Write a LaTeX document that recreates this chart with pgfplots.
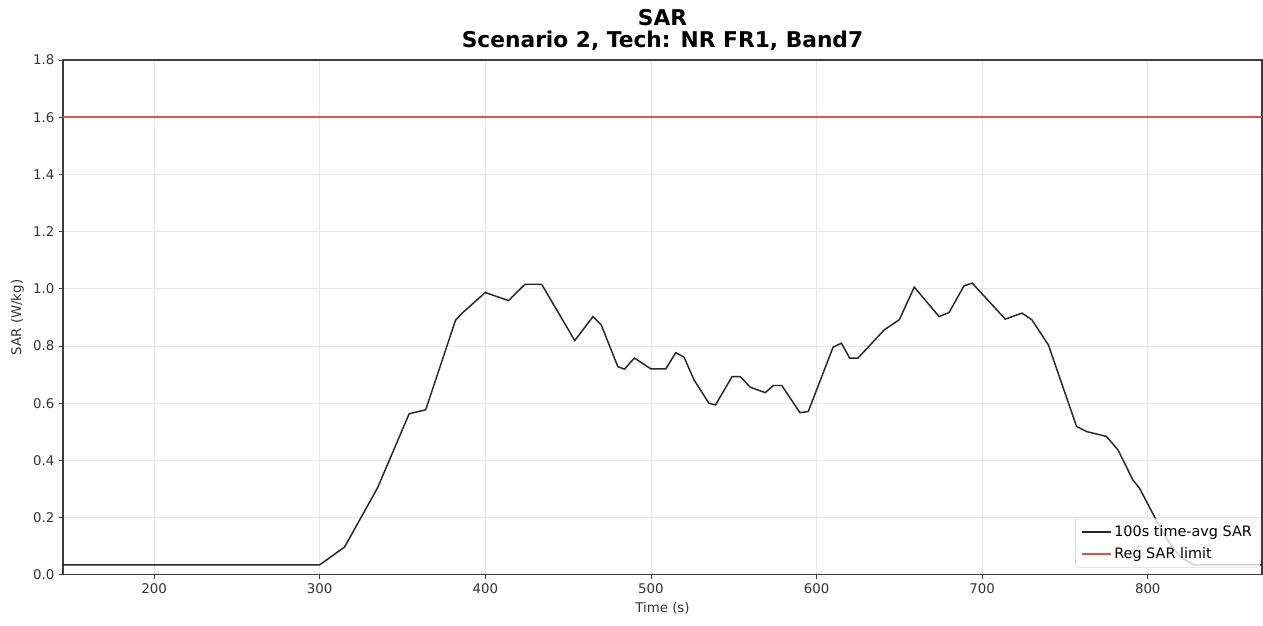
\documentclass[border=0pt]{standalone}
\usepackage{pgfplots}
\pgfplotsset{compat=1.18}
\usepackage{fontspec}
\setmainfont{DejaVu Sans}
\definecolor{sarred}{RGB}{228,80,80}
\definecolor{spine}{RGB}{60,60,60}
\definecolor{gridc}{RGB}{232,232,232}
\begin{document}
\begin{tikzpicture}
\begin{axis}[
  scale only axis,
  width=899pt, height=386pt,
  xmin=145, xmax=869, ymin=0, ymax=1.8,
  xtick={200,300,400,500,600,700,800},
  ytick={0,0.2,0.4,0.6,0.8,1.0,1.2,1.4,1.6,1.8},
  yticklabel style={/pgf/number format/.cd, fixed, fixed zerofill, precision=1},
  /pgf/number format/assume math mode=true,
  tick align=outside, tick pos=left,
  major tick length=3pt,
  every tick/.style={spine, line width=0.6pt},
  axis line style={spine, line width=0.8pt},
  grid=major, major grid style={gridc, line width=0.6pt},
  tick label style={font=\fontsize{10}{12}\selectfont, text=black!80},
  label style={font=\fontsize{10}{12}\selectfont, text=black!80},
  xlabel={Time (s)}, ylabel={SAR (W/kg)},
  title={SAR\\Scenario 2, Tech: NR FR1, Band7},
  title style={font=\fontsize{16.3}{17}\selectfont\bfseries, align=center, at={(0.5,1)}, anchor=south, inner sep=0pt, yshift=0.5pt},
  legend style={font=\fontsize{10.8}{13}\selectfont, draw=black!15, fill=white, fill opacity=0.8, text opacity=1, rounded corners=2pt, cells={anchor=west}, at={(0.9985,0.014)}, anchor=south east, row sep=3pt, inner xsep=4pt, inner ysep=3pt},
  legend image code/.code={\draw[#1] (0pt,0pt) -- (22pt,0pt);},
  legend cell align=left,
]
\addplot[black!85, line width=1.1pt] coordinates {
(145,0.035) (300,0.035) (315,0.097) (335,0.305) (354,0.563) (364,0.577)
(382,0.89) (386,0.915) (400,0.987) (414,0.959) (424,1.016) (434,1.016)
(454,0.819) (465,0.903) (470,0.874) (480,0.728) (484,0.719) (490,0.758)
(500,0.72) (509,0.72) (515,0.777) (520,0.761) (526,0.682) (535,0.60)
(539,0.594) (549,0.693) (554,0.693) (560,0.656) (569,0.637) (574,0.662)
(579,0.662) (590,0.567) (595,0.571) (610,0.796) (615,0.81) (620,0.758)
(625,0.758) (641,0.857) (650,0.892) (659,1.006) (674,0.903) (680,0.917)
(689,1.010) (694,1.020) (714,0.894) (724,0.915) (730,0.892) (740,0.804)
(757,0.519) (763,0.501) (775,0.484) (782,0.437) (791,0.332) (795,0.303)
(804,0.204) (812,0.12) (820,0.06) (828,0.035) (869,0.035)
};
\addlegendentry{100s time-avg SAR}
\addplot[sarred, line width=1.1pt] coordinates {(145,1.6) (869,1.6)};
\addlegendentry{Reg SAR limit}
\coordinate (bl) at (rel axis cs:0,0);
\coordinate (tr) at (rel axis cs:1,1);
\end{axis}
\pgfresetboundingbox
\path ([xshift=-47.25pt, yshift=-38.25pt]bl) rectangle ([xshift=0.75pt, yshift=45pt]tr);
\end{tikzpicture}
\end{document}
